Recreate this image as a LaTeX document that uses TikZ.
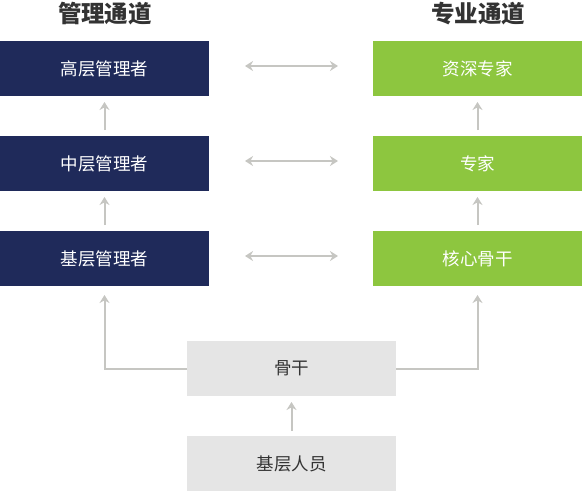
\documentclass[tikz,border=0pt]{standalone}
\usepackage{fontspec}
\usepackage{tikz}
\usetikzlibrary{positioning}
\usetikzlibrary{arrows.meta}
\newfontfamily\cjk{Noto Sans CJK SC}
\definecolor{navy}{HTML}{1F2A5A}
\definecolor{leaf}{HTML}{8DC63F}
\definecolor{pale}{HTML}{E5E5E5}
\definecolor{arr}{HTML}{C6C6C2}
\definecolor{ink}{HTML}{333333}
\tikzset{%
  uparrow/.style = {-{Stealth[length=8pt,width=10pt]},arr,line width=2pt},
  biarrow/.style = {{Stealth[length=8pt,width=10pt]}-{Stealth[length=8pt,width=10pt]},arr,line width=2pt},
  b/.style = {rectangle,inner sep=0pt,outer sep=0pt,minimum width=209pt,
        minimum height=55pt,font=\cjk\fontsize{17.5}{17.5}\selectfont},
  mbox/.style = {b,fill=navy,text=white},
  pbox/.style = {b,fill=leaf,text=white},
  gbox/.style = {b,fill=pale,text=ink},
  ttl/.style = {font=\cjk\bfseries\fontsize{23.5}{23.5}\selectfont,text=ink}
}
\begin{document}
\begin{tikzpicture}[x=1pt,y=-1pt,node distance=40pt and 164pt]
                    \useasboundingbox (0,0) rectangle (582,491);
                    \node[ttl] (tm) at (105,14) {管理通道};
                    \node[ttl] (tp) at (478,14) {专业通道};

                    \node[mbox] (m1) at (104.5,68.5) {高层管理者};
                    \node[mbox] (m2) [below=of m1] {中层管理者};
                    \node[mbox] (m3) [below=of m2] {基层管理者};
                    \node[pbox] (p1) [right=of m1] {资深专家};
                    \node[pbox] (p2) [right=of m2] {专家};
                    \node[pbox] (p3) [right=of m3] {核心骨干};
                    \node[gbox] (gg) at (291.5,368.5) {骨干};
                    \node[gbox] (jc) [below=of gg] {基层人员};

                    \draw[biarrow,shorten <=36pt,shorten >=35pt] ([yshift=2.5pt]m1.east) -- ([yshift=2.5pt]p1.west);
                    \draw[biarrow,shorten <=36pt,shorten >=35pt] ([yshift=2.5pt]m2.east) -- ([yshift=2.5pt]p2.west);
                    \draw[biarrow,shorten <=36pt,shorten >=35pt] ([yshift=2.5pt]m3.east) -- ([yshift=2.5pt]p3.west);

                    \draw[uparrow,shorten <=6pt,shorten >=6pt] (m2) -- (m1);
                    \draw[uparrow,shorten <=6pt,shorten >=6pt] (m3) -- (m2);
                    \draw[uparrow,shorten <=6pt,shorten >=6pt] (p2) -- (p1);
                    \draw[uparrow,shorten <=6pt,shorten >=6pt] (p3) -- (p2);

                    \draw[uparrow,shorten >=9pt] (gg.west) -| (m3.south);
                    \draw[uparrow,shorten >=9pt] (gg.east) -| (p3.south);
                    \draw[uparrow,shorten <=5pt,shorten >=6pt] (jc) -- (gg);
                 \end{tikzpicture}
\end{document}
